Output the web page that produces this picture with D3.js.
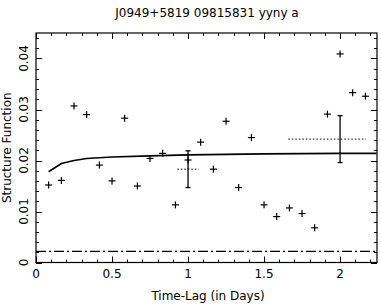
<!DOCTYPE html>
<html><head><meta charset="utf-8">
<script src="https://cdn.jsdelivr.net/npm/d3@7"></script>
<style>body{margin:0;background:#fff}svg{display:block}text{font-family:"DejaVu Sans",sans-serif;fill:#000}</style>
</head><body>
<script>
const title = "J0949+5819 09815831 yyny a";
const xLabel = "Time-Lag (in Days)";
const yLabel = "Structure Function";
const lagX = [0.083,0.167,0.25,0.333,0.417,0.5,0.583,0.667,0.75,0.833,0.917,1.0,1.083,1.167,1.25,1.333,1.417,1.5,1.583,1.667,1.75,1.833,1.917,2.0,2.083,2.167];
const sfY = [0.0152,0.0161,0.0307,0.0290,0.0191,0.0160,0.0283,0.0150,0.0204,0.0214,0.0113,0.0201,0.0236,0.0183,0.0277,0.0147,0.0245,0.0113,0.0090,0.0107,0.0096,0.0068,0.0291,0.0409,0.0333,0.0326];
const modelX = [0.083,0.167,0.25,0.333,0.5,0.75,1.0,1.5,2.0,2.24];
const modelY = [0.0178,0.0194,0.0200,0.0204,0.0207,0.0209,0.0211,0.0213,0.0214,0.0214];
const noiseLevel = 0.0022;
const errX = [1.0, 2.0];
const errLo = [0.0147, 0.0196];
const errHi = [0.0219, 0.0288];
const binY = [0.0183, 0.0242];
const binX0 = [0.93, 1.66];
const binX1 = [1.07, 2.17];
const xTicks = [0, 0.5, 1, 1.5, 2];
const xTickLabels = ["0","0.5","1","1.5","2"];
const yTicks = [0, 0.01, 0.02, 0.03, 0.04];
const yTickLabels = ["0","0.01","0.02","0.03","0.04"];

const W = 381, H = 305;
const L = 36, R = 377, T = 33, B = 262.5;
const x = d3.scaleLinear().domain([0, 2.243]).range([L, R]);
const y = d3.scaleLinear().domain([0, 0.045]).range([B, T]);

const svg = d3.select("body").append("svg").attr("width", W).attr("height", H);

svg.append("rect").attr("x", L).attr("y", T).attr("width", R - L).attr("height", B - T)
  .attr("fill", "none").attr("stroke", "#000").attr("stroke-width", 1.2);

const xMinor = d3.range(0, 2.25, 0.1).map(v => +v.toFixed(2));
const yMinor = d3.range(0, 0.045, 0.002).map(v => +v.toFixed(3));
const tg = svg.append("g").attr("stroke", "#000").attr("stroke-width", 1);
function isMajor(v, step){ return Math.abs(v/step - Math.round(v/step)) < 1e-6; }
xMinor.forEach(v => {
  const len = isMajor(v, 0.5) ? 6 : 3;
  const px = Math.round(x(v)) + 0.5;
  tg.append("line").attr("x1", px).attr("x2", px).attr("y1", B).attr("y2", B - len);
  tg.append("line").attr("x1", px).attr("x2", px).attr("y1", T).attr("y2", T + len);
});
yMinor.forEach(v => {
  const len = isMajor(v, 0.01) ? 6 : 3;
  const py = Math.round(y(v)) + 0.5;
  tg.append("line").attr("x1", L).attr("x2", L + len).attr("y1", py).attr("y2", py);
  tg.append("line").attr("x1", R).attr("x2", R - len).attr("y1", py).attr("y2", py);
});

xTicks.forEach((v, i) => {
  svg.append("text").attr("x", x(v)).attr("y", 277.5).attr("text-anchor", "middle")
    .attr("font-size", 12).text(xTickLabels[i]);
});
yTicks.forEach((v, i) => {
  svg.append("text").attr("transform", `translate(27.5,${y(v)}) rotate(-90)`)
    .attr("text-anchor", "middle").attr("font-size", 12).text(yTickLabels[i]);
});

svg.append("text").attr("x", 207).attr("y", 17).attr("text-anchor", "middle").attr("font-size", 12).text(title);
svg.append("text").attr("x", 208).attr("y", 300).attr("text-anchor", "middle").attr("font-size", 12).text(xLabel);
svg.append("text").attr("transform", `translate(10.5,${(T + B) / 2}) rotate(-90)`)
  .attr("text-anchor", "middle").attr("font-size", 12).text(yLabel);

svg.append("line").attr("x1", L).attr("x2", R).attr("y1", y(noiseLevel)).attr("y2", y(noiseLevel))
  .attr("stroke", "#000").attr("stroke-width", 1.2).attr("stroke-dasharray", "10,3,2,3");

const line = d3.line().x(d => x(d[0])).y(d => y(d[1]));
svg.append("path").datum(modelX.map((v, i) => [v, modelY[i]])).attr("d", line)
  .attr("fill", "none").attr("stroke", "#000").attr("stroke-width", 1.6);

binY.forEach((v, i) => {
  svg.append("line").attr("x1", x(binX0[i])).attr("x2", x(binX1[i])).attr("y1", y(v)).attr("y2", y(v))
    .attr("stroke", "#000").attr("stroke-width", 1).attr("stroke-dasharray", "1.5,2");
});

errX.forEach((v, i) => {
  const px = x(v);
  const g = svg.append("g").attr("stroke", "#000").attr("stroke-width", 1.3);
  g.append("line").attr("x1", px).attr("x2", px).attr("y1", y(errLo[i])).attr("y2", y(errHi[i]));
  g.append("line").attr("x1", px - 2.5).attr("x2", px + 2.5).attr("y1", y(errLo[i])).attr("y2", y(errLo[i]));
  g.append("line").attr("x1", px - 2.5).attr("x2", px + 2.5).attr("y1", y(errHi[i])).attr("y2", y(errHi[i]));
});

const cg = svg.append("g").attr("stroke", "#000").attr("stroke-width", 1.2);
lagX.forEach((v, i) => {
  const px = x(v), py = y(sfY[i]), s = 3.5;
  cg.append("line").attr("x1", px - s).attr("x2", px + s).attr("y1", py).attr("y2", py);
  cg.append("line").attr("x1", px).attr("x2", px).attr("y1", py - s).attr("y2", py + s);
});
</script>
</body></html>
